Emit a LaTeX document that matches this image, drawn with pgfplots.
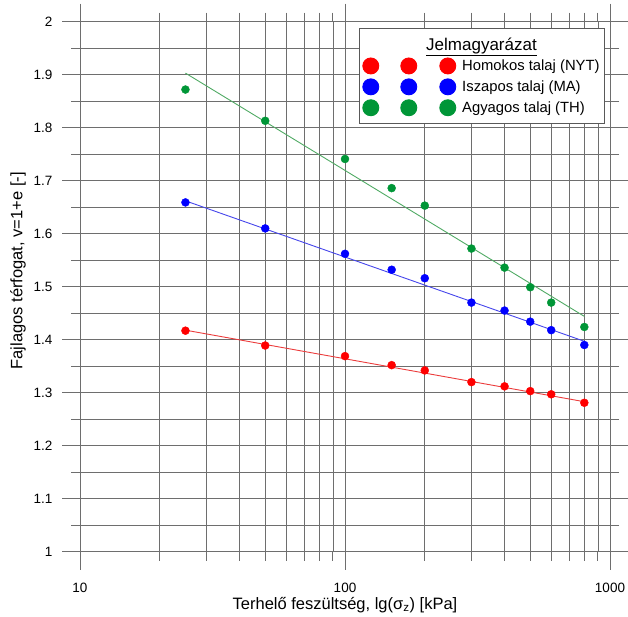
\documentclass[border=0pt]{standalone}
\usepackage{pgfplots}
\pgfplotsset{compat=1.18}
\usepackage{fontspec}
\setmainfont{Liberation Sans}
\definecolor{cred}{RGB}{255,0,0}
\definecolor{cblue}{RGB}{0,0,255}
\definecolor{cgreen}{RGB}{0,150,55}
\definecolor{lred}{RGB}{235,60,60}
\definecolor{lblue}{RGB}{70,70,235}
\definecolor{lgreen}{RGB}{80,170,100}
\definecolor{gridc}{RGB}{110,110,110}
\pgfplotstableread{
x red blue green
25  1.417 1.659 1.872
50  1.389 1.610 1.813
100 1.369 1.562 1.741
150 1.352 1.532 1.686
200 1.342 1.516 1.653
300 1.320 1.470 1.572
400 1.312 1.455 1.536
500 1.303 1.434 1.499
600 1.297 1.418 1.470
800 1.281 1.390 1.424
}\data
\begin{document}
\begin{tikzpicture}
\begin{semilogxaxis}[
  scale only axis,
  width=530bp, height=530bp,
  xmin=10, xmax=1000, ymin=1, ymax=2,
  log ticks with fixed point,
  /pgf/number format/1000 sep={},
  xtick={10,100,1000},
  ytick={1,1.1,...,2.01},
  minor y tick num=1,
  xmajorgrids, xminorgrids, ymajorgrids, yminorgrids,
  major grid style={draw=gridc, line width=0.7bp},
  minor grid style={draw=gridc, line width=0.7bp},
  axis line style={draw=gridc, line width=0.8bp},
  every tick/.style={draw=gridc, line width=0.8bp},
  tick align=outside,
  major tick length=18bp, minor tick length=9bp,
  /pgf/number format/assume math mode=true,
  /pgf/number format/fixed,
  yticklabel={\pgfmathprintnumber[fixed,precision=1]{\tick}},
  tick label style={font=\fontsize{13.5bp}{16bp}\selectfont},
  xticklabel style={yshift=-10bp},
  yticklabel style={xshift=-6bp},
  xlabel={Terhelő feszültség, lg(σ\textsubscript{z}) [kPa]},
  ylabel={Fajlagos térfogat, v=1+e [-]},
  label style={font=\fontsize{16.5bp}{19bp}\selectfont},
  xlabel style={at={(axis description cs:0.5,-0.1006)}, anchor=center},
  ylabel style={at={(axis description cs:-0.117,0.53)}, anchor=center},
  legend style={at={(axis description cs:0.9906,0.988)}, anchor=north east,
    draw=black!65, line width=0.9bp, fill=white,
    font=\fontsize{14.8bp}{17bp}\selectfont,
    row sep=4bp, inner xsep=3bp, inner ysep=7bp},
  legend cell align=left,
  legend image code/.code={
    \fill (8bp,0bp) circle (8bp);
    \fill (46bp,0bp) circle (8bp);
    \fill (85bp,0bp) circle (8bp);
    \path (97bp,0bp) -- (97bp,0bp);
  },
]
\addlegendimage{empty legend}
\addlegendentry{\hspace*{-36bp}{\fontsize{17bp}{20bp}\selectfont\underline{Jelmagyarázat}}}
\addplot[only marks, mark=*, mark size=4bp, color=cred] table[x=x,y=red]{\data};
\addlegendentry{Homokos talaj (NYT)}
\addplot[only marks, mark=*, mark size=4bp, color=cblue] table[x=x,y=blue]{\data};
\addlegendentry{Iszapos talaj (MA)}
\addplot[only marks, mark=*, mark size=4bp, color=cgreen] table[x=x,y=green]{\data};
\addlegendentry{Agyagos talaj (TH)}
\addplot[forget plot, no marks, color=lred, line width=0.9bp] coordinates {(25,1.418) (800,1.283)};
\addplot[forget plot, no marks, color=lblue, line width=0.9bp] coordinates {(25,1.662) (800,1.397)};
\addplot[forget plot, no marks, color=lgreen, line width=0.9bp] coordinates {(25,1.903) (800,1.444)};
\end{semilogxaxis}
\pgfresetboundingbox
\path (-80bp,-65.3bp) rectangle (548bp,551.7bp);
\end{tikzpicture}
\end{document}
